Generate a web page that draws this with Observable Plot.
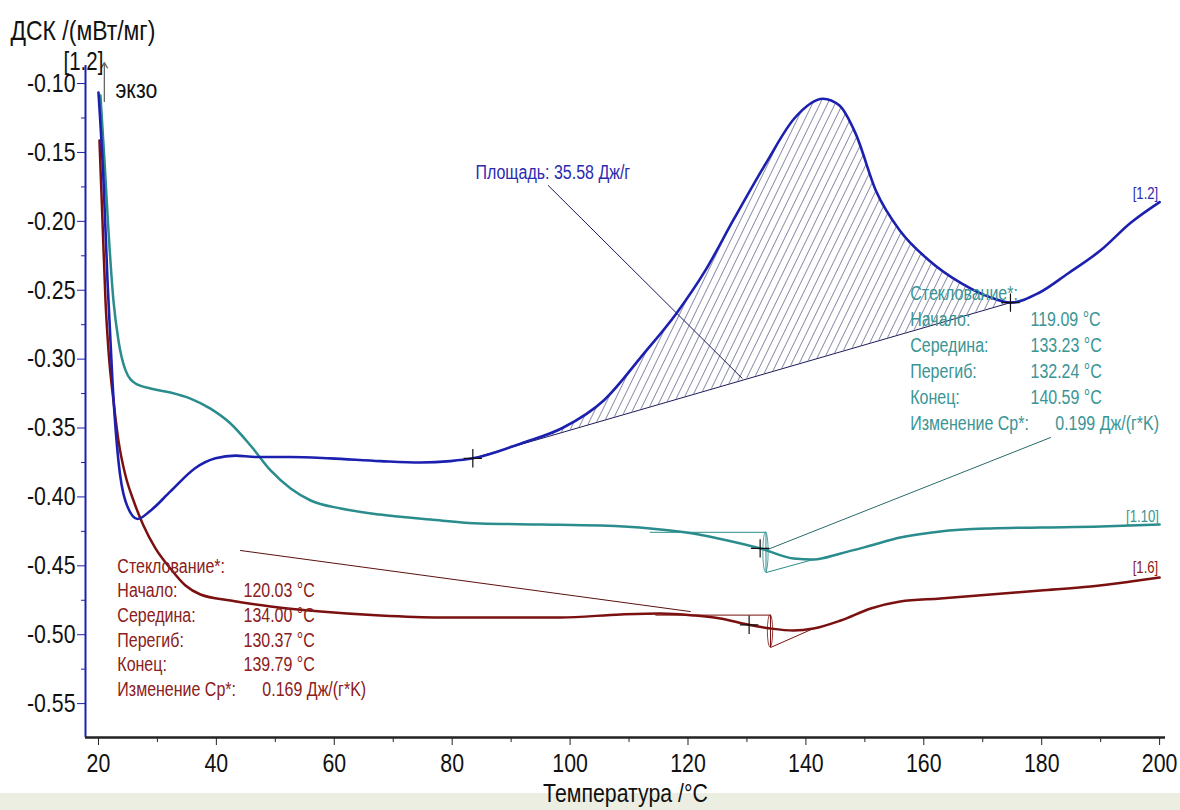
<!DOCTYPE html>
<html>
<head>
<meta charset="utf-8">
<script src="https://cdn.jsdelivr.net/npm/d3@7"></script>
<script src="https://cdn.jsdelivr.net/npm/@observablehq/plot@0.6"></script>
<style>
html, body { margin: 0; padding: 0; background: linear-gradient(#ffffff 0 793px, #eceee2 793px); }
#chart svg { display: block; }
</style>
</head>
<body>
<div id="chart"></div>
<script>
// ---- Data (temperature °C, DSC mW/mg) ----
const temp12 = [20.0, 20.85, 21.53, 22.37, 23.39, 24.58, 26.62, 28.82, 32.21, 36.45, 39.85, 43.24, 46.63, 52.57, 59.36, 67.84, 74.62, 79.71, 83.5, 91.8, 98.7, 105.7, 112.5, 118.0, 122.9, 127.7, 133.2, 138.1, 142.9, 145.7, 148.4, 151.9, 156.0, 160.8, 166.4, 171.2, 174.7, 179.5, 184.4, 190.0, 195.1, 200.0];
const dsc12  = [-0.1065, -0.170, -0.243, -0.316, -0.374, -0.403, -0.416, -0.410, -0.396, -0.379, -0.372, -0.370, -0.371, -0.371, -0.372, -0.374, -0.375, -0.374, -0.372, -0.361, -0.350, -0.330, -0.296, -0.267, -0.236, -0.199, -0.158, -0.125, -0.111, -0.116, -0.136, -0.178, -0.207, -0.228, -0.245, -0.255, -0.259, -0.252, -0.238, -0.221, -0.201, -0.186];

const temp110 = [20.34, 21.02, 21.70, 22.54, 23.39, 24.58, 26.28, 28.82, 32.21, 35.61, 39.0, 42.4, 45.8, 49.2, 52.6, 56.0, 61.1, 67.8, 76.3, 84.8, 95.0, 105.2, 113.6, 120.9, 126.7, 132.3, 137.9, 141.3, 145.9, 151.0, 156.0, 162.8, 171.3, 179.8, 190.0, 200.0];
const dsc110  = [-0.1087, -0.156, -0.207, -0.2575, -0.2865, -0.308, -0.3177, -0.3213, -0.3242, -0.3286, -0.3359, -0.3467, -0.3627, -0.3808, -0.3939, -0.4026, -0.4084, -0.4128, -0.4164, -0.4193, -0.4200, -0.4208, -0.4229, -0.4266, -0.4316, -0.4374, -0.4447, -0.4454, -0.4410, -0.4353, -0.4295, -0.4251, -0.4229, -0.4222, -0.4215, -0.4200];

const temp16 = [20.17, 20.68, 21.19, 21.70, 22.54, 23.39, 24.58, 25.94, 27.63, 29.67, 32.21, 34.76, 37.3, 42.4, 49.2, 57.7, 67.8, 78.0, 88.2, 98.4, 108.6, 115.3, 120.9, 125.5, 130.1, 134.0, 137.9, 141.3, 145.9, 151.0, 156.0, 162.8, 171.3, 179.8, 188.3, 195.1, 200.0];
const dsc16  = [-0.1414, -0.1994, -0.2575, -0.2938, -0.330, -0.3591, -0.3845, -0.4026, -0.4208, -0.4374, -0.452, -0.4643, -0.4708, -0.4752, -0.4795, -0.4832, -0.4861, -0.4875, -0.4875, -0.4875, -0.4853, -0.4846, -0.4860, -0.4882, -0.4926, -0.4955, -0.4970, -0.4955, -0.4897, -0.4810, -0.4759, -0.4737, -0.4708, -0.4679, -0.4650, -0.4614, -0.4585];

const seriesNames = ["[1.2]", "[1.10]", "[1.6]"];

// Tick values
const xTicks = [20, 40, 60, 80, 100, 120, 140, 160, 180, 200];
const xMinorTicks = [30, 50, 70, 90, 110, 130, 150, 170, 190];
const yTicks = [-0.10, -0.15, -0.20, -0.25, -0.30, -0.35, -0.40, -0.45, -0.50, -0.55];
const yMinorTicks = [-0.125, -0.175, -0.225, -0.275, -0.325, -0.375, -0.425, -0.475, -0.525];

// Peak integration limits (°C) and result
const peakLimits = [83.5, 174.7];
const peakLabel = "Площадь: 35.58 Дж/г";

// Glass transition results
const glassLabels = ["Стеклование*:", "Начало:", "Середина:", "Перегиб:", "Конец:", "Изменение Cp*:"];
const glass110Values = ["119.09 °C", "133.23 °C", "132.24 °C", "140.59 °C"];
const glass110Cp = "0.199 Дж/(г*K)";
const glass16Values = ["120.03 °C", "134.00 °C", "130.37 °C", "139.79 °C"];
const glass16Cp = "0.169 Дж/(г*K)";
const glass110Points = {onset: 119.09, mid: 133.23, inflection: 132.24, end: 140.59};
const glass16Points = {onset: 120.03, mid: 134.00, inflection: 130.37, end: 139.79};

// ---- Build tables ----
const rows = (t, v) => t.map((x, i) => ({t: x, v: v[i]}));
const r12 = rows(temp12, dsc12), r110 = rows(temp110, dsc110), r16 = rows(temp16, dsc16);
const valueAt = (r, t) => {
  for (let i = 1; i < r.length; i++) if (t <= r[i].t) { const a = r[i-1], b = r[i]; return a.v + (b.v - a.v) * (t - a.t) / (b.t - a.t); }
  return r[r.length - 1].v;
};
const b0 = {t: peakLimits[0], v: valueAt(r12, peakLimits[0])};
const b1 = {t: peakLimits[1], v: valueAt(r12, peakLimits[1])};
const baseAt = t => b0.v + (b1.v - b0.v) * (t - b0.t) / (b1.t - b0.t);
const hatchRows = r12.filter(d => d.t >= b0.t && d.t <= b1.t).map(d => ({t: d.t, v: d.v, b: baseAt(d.t)}));

const BLUE = "#1c20ae", TEAL = "#2a8c8c", RED = "#7a1010";
const BLUE_TXT = "#2b2bb0", TEAL_TXT = "#3a9595", RED_TXT = "#8a2020";
const FONT = "'Liberation Sans', Arial, sans-serif";
const NARROW = 0.82; // horizontal squeeze to mimic a narrow sans face

const construct = (r, p, dropTo, endT) => {
  const top = valueAt(r, p.onset);
  return [{t: p.onset - 5.5, v: top}, {t: p.mid, v: top}, {t: p.mid, v: dropTo}, {t: endT, v: valueAt(r, endT)}];
};
const c110 = construct(r110, glass110Points, -0.4549, 141.3);
const c16 = construct(r16, glass16Points, -0.5093, 141.3);

const lineStep110 = 0.01887, lineStep16 = 0.01785;
const ANN = 19.5;

const chart = Plot.plot({
  width: 1180, height: 810,
  marginLeft: 85, marginRight: 15, marginTop: 65, marginBottom: 73,
  x: {domain: [17.8, 201.0], label: null},
  y: {domain: [-0.5746, -0.0869], label: null},
  style: {fontFamily: FONT, background: "transparent", overflow: "visible"},
  marks: [
    Plot.areaY(hatchRows, {x: "t", y1: "b", y2: "v", fill: "url(#hatch)", curve: "monotone-x"}),
    Plot.line([b0, b1], {x: "t", y: "v", stroke: "#1a1a5a", strokeWidth: 1}),
    Plot.line(c110, {x: "t", y: "v", stroke: TEAL, strokeWidth: 1}),
    Plot.line(c16, {x: "t", y: "v", stroke: RED, strokeWidth: 1}),
    Plot.rect([{x1: glass110Points.mid - 0.45, x2: glass110Points.mid + 0.45, y1: c110[2].v, y2: c110[1].v}], {x1: "x1", x2: "x2", y1: "y1", y2: "y2", fill: "none", stroke: TEAL, strokeWidth: 0.8, rx: 3, ry: 22}),
    Plot.rect([{x1: glass16Points.mid - 0.45, x2: glass16Points.mid + 0.45, y1: c16[2].v, y2: c16[1].v}], {x1: "x1", x2: "x2", y1: "y1", y2: "y2", fill: "none", stroke: RED, strokeWidth: 0.8, rx: 3, ry: 19}),
    Plot.line([{t: 96.3, v: -0.174}, {t: 129.2, v: -0.314}], {x: "t", y: "v", stroke: "#1a1a5a", strokeWidth: 1}),
    Plot.line([{t: glass110Points.mid, v: valueAt(r110, glass110Points.mid)}, {t: 181.5, v: -0.3569}], {x: "t", y: "v", stroke: "#2a6a6a", strokeWidth: 1}),
    Plot.line([{t: 44.1, v: -0.4389}, {t: 120.4, v: -0.4832}], {x: "t", y: "v", stroke: "#5a1010", strokeWidth: 1}),
    Plot.line(r16, {x: "t", y: "v", stroke: RED, strokeWidth: 2.5, curve: "monotone-x"}),
    Plot.line(r110, {x: "t", y: "v", stroke: TEAL, strokeWidth: 2.5, curve: "monotone-x"}),
    Plot.line(r12, {x: "t", y: "v", stroke: BLUE, strokeWidth: 2.6, curve: "monotone-x"}),
    Plot.dot([b0, b1,
              {t: glass110Points.inflection, v: valueAt(r110, glass110Points.inflection)},
              {t: glass16Points.inflection, v: valueAt(r16, glass16Points.inflection)}],
             {x: "t", y: "v", symbol: "plus", r: 6, stroke: "#111", strokeWidth: 1.2}),
    // axes
    Plot.axisX(xTicks, {tickSize: 8, tickPadding: 8, fontSize: 26, stroke: "#222", fill: "#111", tickFormat: d => String(d)}),
    Plot.axisX(xMinorTicks, {tickSize: 5, text: null, stroke: "#222"}),
    Plot.axisY(yTicks, {tickSize: 8, tickPadding: 2, fontSize: 26, stroke: BLUE, fill: "#111", tickFormat: d => d.toFixed(2)}),
    Plot.axisY(yMinorTicks, {tickSize: 4, text: null, stroke: BLUE}),
    Plot.ruleX([17.8], {stroke: BLUE, strokeWidth: 2}),
    Plot.ruleY([-0.5746], {stroke: "#222", strokeWidth: 2.5}),
    // exo arrow
    Plot.arrow([{x1: 21.0, y1: -0.1130, x2: 21.0, y2: -0.0848}], {x1: "x1", y1: "y1", x2: "x2", y2: "y2", stroke: "#666", strokeWidth: 1.3, headLength: 7}),
    // texts
    Plot.text(["ДСК /(мВт/мг)"], {frameAnchor: "top-left", dx: -75, dy: -45, textAnchor: "start", fontSize: 28, fill: "#111"}),
    Plot.text([seriesNames[0]], {frameAnchor: "top-left", dx: -22, dy: -13, textAnchor: "start", fontSize: 25, fill: "#111"}),
    Plot.text(["экзо"], {frameAnchor: "top-left", dx: 30, dy: 14, textAnchor: "start", fontSize: 26, fill: "#111"}),
    Plot.text(["Температура /°C"], {frameAnchor: "bottom", dy: 64, fontSize: 26, fill: "#111"}),
    Plot.text([peakLabel], {x: 83.95, y: -0.1646, textAnchor: "start", fontSize: ANN, fill: BLUE_TXT}),
    Plot.text(glassLabels, {x: 157.7, y: (d, i) => -0.2524 - i * lineStep110, textAnchor: "start", fontSize: ANN, fill: TEAL_TXT}),
    Plot.text(glass110Values, {x: 178.1, y: (d, i) => -0.2524 - (i + 1) * lineStep110, textAnchor: "start", fontSize: ANN, fill: TEAL_TXT}),
    Plot.text([glass110Cp], {x: 182.3, y: -0.2524 - 5 * lineStep110, textAnchor: "start", fontSize: ANN, fill: TEAL_TXT}),
    Plot.text(glassLabels, {x: 23.2, y: (d, i) => -0.4505 - i * lineStep16, textAnchor: "start", fontSize: ANN, fill: RED_TXT}),
    Plot.text(glass16Values, {x: 44.6, y: (d, i) => -0.4505 - (i + 1) * lineStep16, textAnchor: "start", fontSize: ANN, fill: RED_TXT}),
    Plot.text([glass16Cp], {x: 47.8, y: -0.4505 - 5 * lineStep16, textAnchor: "start", fontSize: ANN, fill: RED_TXT}),
    Plot.text([seriesNames[0]], {x: 197.6, y: -0.1798, fontSize: 16, fill: BLUE_TXT}),
    Plot.text([seriesNames[1]], {x: 197.1, y: -0.4142, fontSize: 16, fill: TEAL_TXT}),
    Plot.text([seriesNames[2]], {x: 197.6, y: -0.4512, fontSize: 16, fill: RED_TXT})
  ]
});

// narrow the glyphs around each text's own anchor point
chart.querySelectorAll("text").forEach(t => {
  const tr = t.getAttribute("transform") || "";
  t.setAttribute("transform", tr + ` scale(${NARROW},1)`);
});

// hatch pattern definition
const ns = "http://www.w3.org/2000/svg";
const defs = document.createElementNS(ns, "defs");
defs.innerHTML = '<pattern id="hatch" patternUnits="userSpaceOnUse" width="6.8" height="6.8" patternTransform="rotate(26)"><line x1="0" y1="0" x2="0" y2="6.8" stroke="#1a1a5a" stroke-width="1"/></pattern>';
chart.insertBefore(defs, chart.firstChild);
document.getElementById("chart").appendChild(chart);
</script>
</body>
</html>
